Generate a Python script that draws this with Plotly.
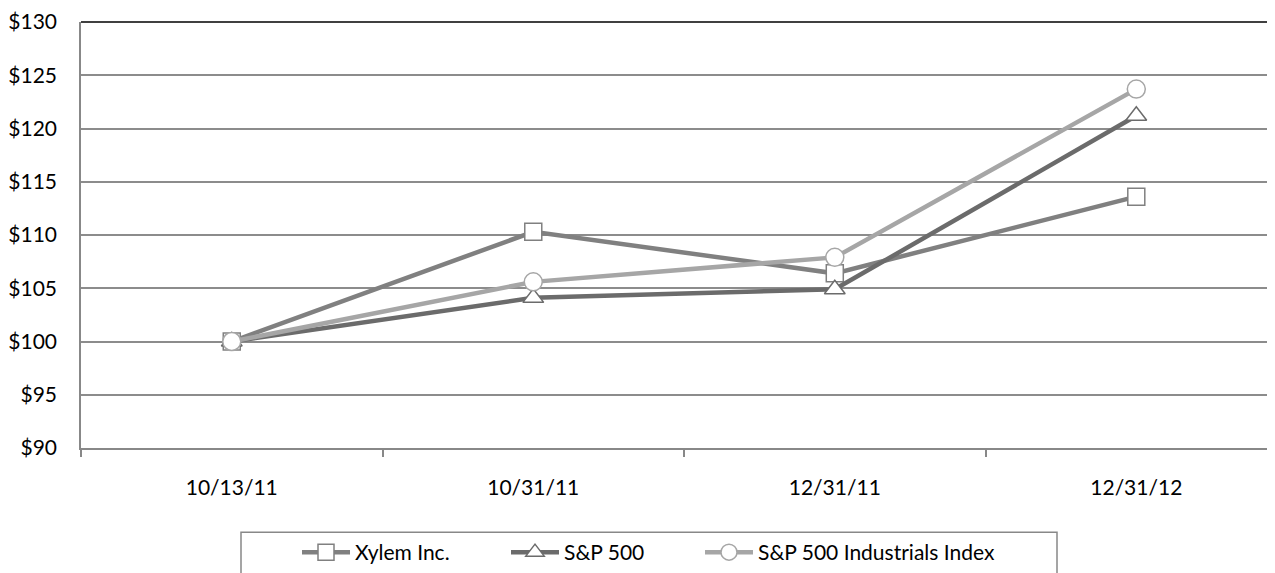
import plotly.graph_objects as go

dates = ["10/13/11", "10/31/11", "12/31/11", "12/31/12"]
xylem = [100, 110.3, 106.4, 113.6]
sp500 = [100, 104.1, 104.9, 121.2]
industrials = [100, 105.6, 107.9, 123.7]

FONT = "Lato"
FS = 21
# page offset of 8px (body margin) is compensated in margins
L, T, PW, PH = 81, 20, 1194, 430


def px_x(p):
    return (p - L) / PW


def px_y(p):
    return (T + PH - p) / PH


fig = go.Figure()
fig.add_trace(go.Scatter(x=dates, y=xylem, name="Xylem Inc.", mode="lines+markers",
                         legend="legend",
                         line=dict(color="#808080", width=4.5),
                         marker=dict(symbol="square", size=17, color="white",
                                     line=dict(color="#808080", width=1.5))))
fig.add_trace(go.Scatter(x=dates, y=sp500, name="S&P 500", mode="lines+markers",
                         legend="legend2",
                         line=dict(color="#6b6b6b", width=4.5),
                         marker=dict(symbol="triangle-up", size=18, color="white",
                                     line=dict(color="#6b6b6b", width=1.5))))
fig.add_trace(go.Scatter(x=dates, y=industrials, name="S&P 500 Industrials Index", mode="lines+markers",
                         legend="legend3",
                         line=dict(color="#a6a6a6", width=4.5),
                         marker=dict(symbol="circle", size=18, color="white",
                                     line=dict(color="#a6a6a6", width=1.5))))

leg_common = dict(orientation="h", yanchor="middle", xanchor="left",
                  font=dict(size=FS, family=FONT), bgcolor="rgba(0,0,0,0)",
                  itemwidth=48, borderwidth=0)

fig.update_layout(
    width=1267, height=565,
    margin=dict(l=L - 8, r=0, t=T - 8, b=565 - (T + PH - 8)),
    plot_bgcolor="white", paper_bgcolor="white",
    font=dict(family=FONT, size=FS, color="black"),
    showlegend=True,
    legend=dict(x=px_x(297), y=px_y(556), **leg_common),
    legend2=dict(x=px_x(506), y=px_y(556), **leg_common),
    legend3=dict(x=px_x(700), y=px_y(556), **leg_common),
    xaxis=dict(type="category", range=[-0.5, 3.46], tickson="boundaries",
               ticks="outside", ticklen=7, tickcolor="#888888", tickwidth=1.5,
               showline=True, linecolor="#888888", linewidth=1.5,
               showgrid=False, tickfont=dict(size=FS), ticklabelstandoff=20),
    yaxis=dict(range=[90, 130], dtick=5, tickprefix="$", showgrid=True,
               gridcolor="#8c8c8c", gridwidth=1.5, showline=True,
               linecolor="#888888", linewidth=1.5, zeroline=False,
               ticks="", tickfont=dict(size=FS), ticklabelstandoff=18,
               ticklabeloverflow="allow"),
    shapes=[
        dict(type="line", xref="paper", yref="paper", x0=0, x1=1, y0=1, y1=1,
             line=dict(color="black", width=1.5)),
        dict(type="rect", xref="paper", yref="paper",
             x0=px_x(241), x1=px_x(1057), y0=px_y(535), y1=px_y(600),
             line=dict(color="#888888", width=1.5)),
    ],
)

fig.write_html("out.html")
